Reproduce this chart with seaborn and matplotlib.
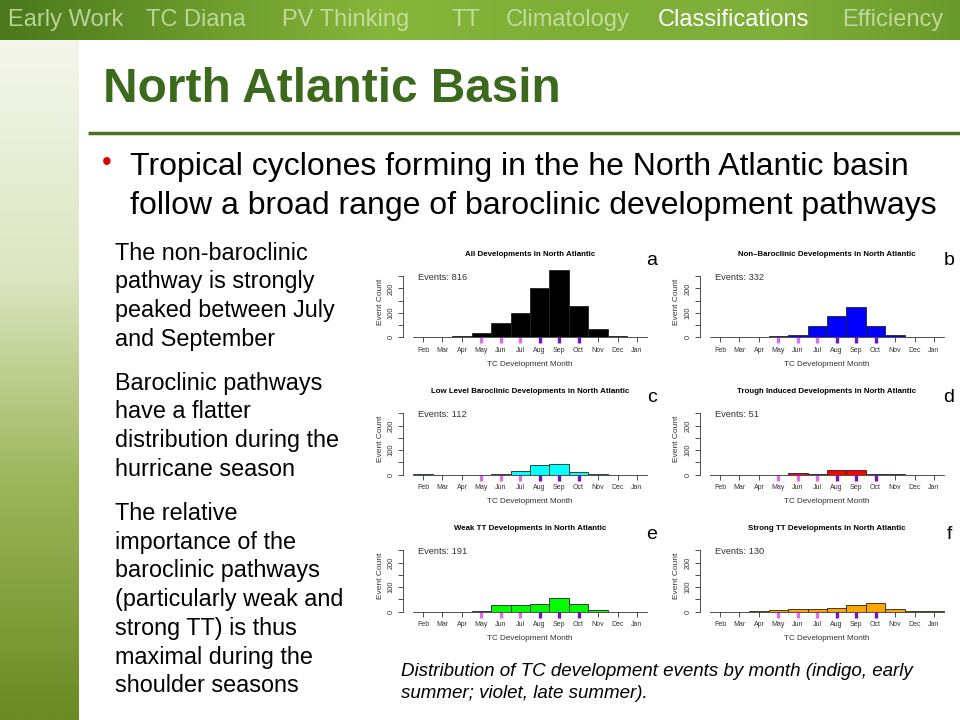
import numpy as np
import pandas as pd
import matplotlib
matplotlib.use("Agg")
import matplotlib.pyplot as plt
import seaborn as sns
from matplotlib.colors import LinearSegmentedColormap

# ---------------- data ----------------
months = ["Feb", "Mar", "Apr", "May", "Jun", "Jul", "Aug", "Sep", "Oct", "Nov", "Dec", "Jan"]
all_dev = [0, 0, 4, 16, 57, 100, 200, 273, 129, 33, 4, 0]
non_baroclinic = [0, 0, 0, 4, 11, 45, 86, 124, 48, 11, 3, 0]
low_level = [2, 0, 0, 0, 2, 15, 40, 43, 9, 1, 0, 0]
trough = [0, 0, 0, 0, 8, 2, 17, 20, 2, 2, 0, 0]
weak_tt = [0, 0, 0, 4, 27, 29, 33, 57, 33, 8, 0, 0]
strong_tt = [0, 0, 3, 8, 10, 10, 17, 29, 35, 12, 4, 2]
series = [all_dev, non_baroclinic, low_level, trough, weak_tt, strong_tt]
panel_titles = ["All Developments in North Atlantic",
                "Non\u2013Baroclinic Developments in North Atlantic",
                "Low Level Baroclinic Developments in North Atlantic",
                "Trough Induced Developments in North Atlantic",
                "Weak TT Developments in North Atlantic",
                "Strong TT Developments in North Atlantic"]
events = [816, 332, 112, 51, 191, 130]
panel_letters = ["a", "b", "c", "d", "e", "f"]
bar_colors = ["#000000", "#0000FF", "#00FFFF", "#FF0000", "#00FF00", "#FFA500"]
y_ticks = [0, 50, 100, 150, 200, 250]
y_tick_labels = ["0", "", "100", "", "200", ""]
violet_months = ["May", "Jun", "Jul"]
indigo_months = ["Aug", "Sep", "Oct"]

nav_items = ["Early Work", "TC Diana", "PV Thinking", "TT", "Climatology", "Classifications", "Efficiency"]
nav_x = [8, 146, 282, 451, 506, 658, 842]
active_nav = "Classifications"
slide_title = "North Atlantic Basin"
bullet_lines = ["Tropical cyclones forming in the he North Atlantic basin",
                "follow a broad range of baroclinic development pathways"]
side_lines = ["The non-baroclinic", "pathway is strongly", "peaked between July", "and September",
              None,
              "Baroclinic pathways", "have a flatter", "distribution during the", "hurricane season",
              None,
              "The relative", "importance of the", "baroclinic pathways", "(particularly weak and",
              "strong TT) is thus", "maximal during the", "shoulder seasons"]
caption_lines = ["Distribution of TC development events by month (indigo, early",
                 "summer; violet, late summer)."]

# ---------------- figure ----------------
sns.set_style("white")
plt.rcParams["font.family"] = ["Liberation Sans", "DejaVu Sans"]
W, H = 960, 720
fig = plt.figure(figsize=(9.6, 7.2), dpi=100)
fig.patch.set_facecolor("white")


def fx(x):
    return x / W


def fy(y):
    return 1 - y / H


bg = fig.add_axes([0, 0, 1, 1], zorder=0)
bg.set_xlim(0, W)
bg.set_ylim(H, 0)
bg.axis("off")

# top banner gradient
ban_cmap = LinearSegmentedColormap.from_list(
    "ban", ["#4A781C", "#6A9A2A", "#86B63A", "#7DAE36", "#7FB03A", "#6A9A2A"])
grad = np.linspace(0, 1, 256).reshape(1, -1)
bg.imshow(grad, cmap=ban_cmap, aspect="auto", extent=(0, W, 40, 0), zorder=1)

# left band gradient
band_cmap = LinearSegmentedColormap.from_list(
    "band", [(0, "#F4F6EC"), (0.35, "#DCE5C0"), (0.65, "#9CB65A"), (1, "#6A8A22")])
vgrad = np.linspace(0, 1, 256).reshape(-1, 1)
bg.imshow(vgrad, cmap=band_cmap, aspect="auto", extent=(0, 79, 720, 40), zorder=1)
bg.set_xlim(0, W)
bg.set_ylim(H, 0)

for name, x in zip(nav_items, nav_x):
    active = name == active_nav
    bg.text(x, 20, name, fontsize=17, color="white" if active else "#D4E6B4",
            alpha=1 if active else 0.8, va="center", ha="left", zorder=3)

bg.text(103, 90, slide_title, fontsize=34.4, fontweight="bold", color="#3C6A1C",
        va="center", ha="left", zorder=3)
bg.plot([88, 960], [132.5, 132.5], color="#4A7021", lw=2.5, zorder=3, solid_capstyle="butt")

bg.text(107, 163, "\u2022", fontsize=20, color="#E00000", va="center", ha="center", zorder=3)
for i, line in enumerate(bullet_lines):
    bg.text(130, 167 + i * 39, line, fontsize=23, color="black", va="center", ha="left", zorder=3)

y = 253
for line in side_lines:
    if line is None:
        y += 15.5
        continue
    bg.text(115, y, line, fontsize=16.8, color="black", va="center", ha="left", zorder=3)
    y += 28.7

for i, line in enumerate(caption_lines):
    bg.text(401, 672 + i * 22, line, fontsize=13.5, style="italic", color="black",
            va="center", ha="left", zorder=3)

# ---------------- panels ----------------
AX_W, AX_H = 254, 71
for k, vals in enumerate(series):
    row, col = divmod(k, 2)
    L = 403 + col * 297
    Z = 337.3 + row * 137.2
    ax = fig.add_axes([fx(L), fy(Z), AX_W / W, AX_H / H], zorder=2)
    ax.patch.set_alpha(0)
    df = pd.DataFrame({"month": months, "count": vals})
    sns.barplot(data=df, x="month", y="count", order=months, color=bar_colors[k],
                width=1.0, edgecolor="#222222", linewidth=0.6, saturation=1,
                errorbar=None, ax=ax)
    ax.set_xlim(-1.03, 12.03)
    ax.set_ylim(0, 290)
    for s in ["top", "right"]:
        ax.spines[s].set_visible(False)
    ax.spines["left"].set_bounds(0, 250)
    ax.spines["bottom"].set_bounds(-0.5, 11.5)
    for s in ["left", "bottom"]:
        ax.spines[s].set_color("#333333")
        ax.spines[s].set_linewidth(0.6)
    ax.set_yticks(y_ticks)
    ax.set_yticklabels(y_tick_labels, rotation=90, va="center", fontsize=5.4, color="#333333")
    ax.tick_params(axis="both", direction="out", length=3.5, width=0.6, color="#333333",
                   bottom=True, left=True)
    ax.tick_params(axis="x", labelsize=5.0, labelcolor="#333333", pad=3.5)
    ax.tick_params(axis="y", pad=2.5)
    ticks = ax.xaxis.get_major_ticks()
    for i, m in enumerate(months):
        c = None
        if m in violet_months:
            c = "#E06CF2"
        elif m in indigo_months:
            c = "#7414C4"
        if c is not None:
            ticks[i].tick1line.set_markeredgecolor(c)
            ticks[i].tick1line.set_markeredgewidth(2.4)
            ticks[i].tick1line.set_markersize(4.2)
    ax.set_xlabel("TC Development Month", fontsize=5.9, color="#333333", labelpad=5)
    ax.set_ylabel("Event Count", fontsize=6, color="#333333", labelpad=3)
    ax.text(0.06, 0.845, f"Events: {events[k]}", transform=ax.transAxes, fontsize=6.7,
            color="#333333", ha="left", va="center")
    fig.text(fx(L + AX_W / 2), fy(Z - 83), panel_titles[k], fontsize=5.7, fontweight="bold",
             ha="center", va="center", color="black")
    fig.text(fx(L + 249), fy(Z - 77), panel_letters[k], fontsize=14, ha="center",
             va="center", color="black")

fig.savefig("out.png", dpi=100)
